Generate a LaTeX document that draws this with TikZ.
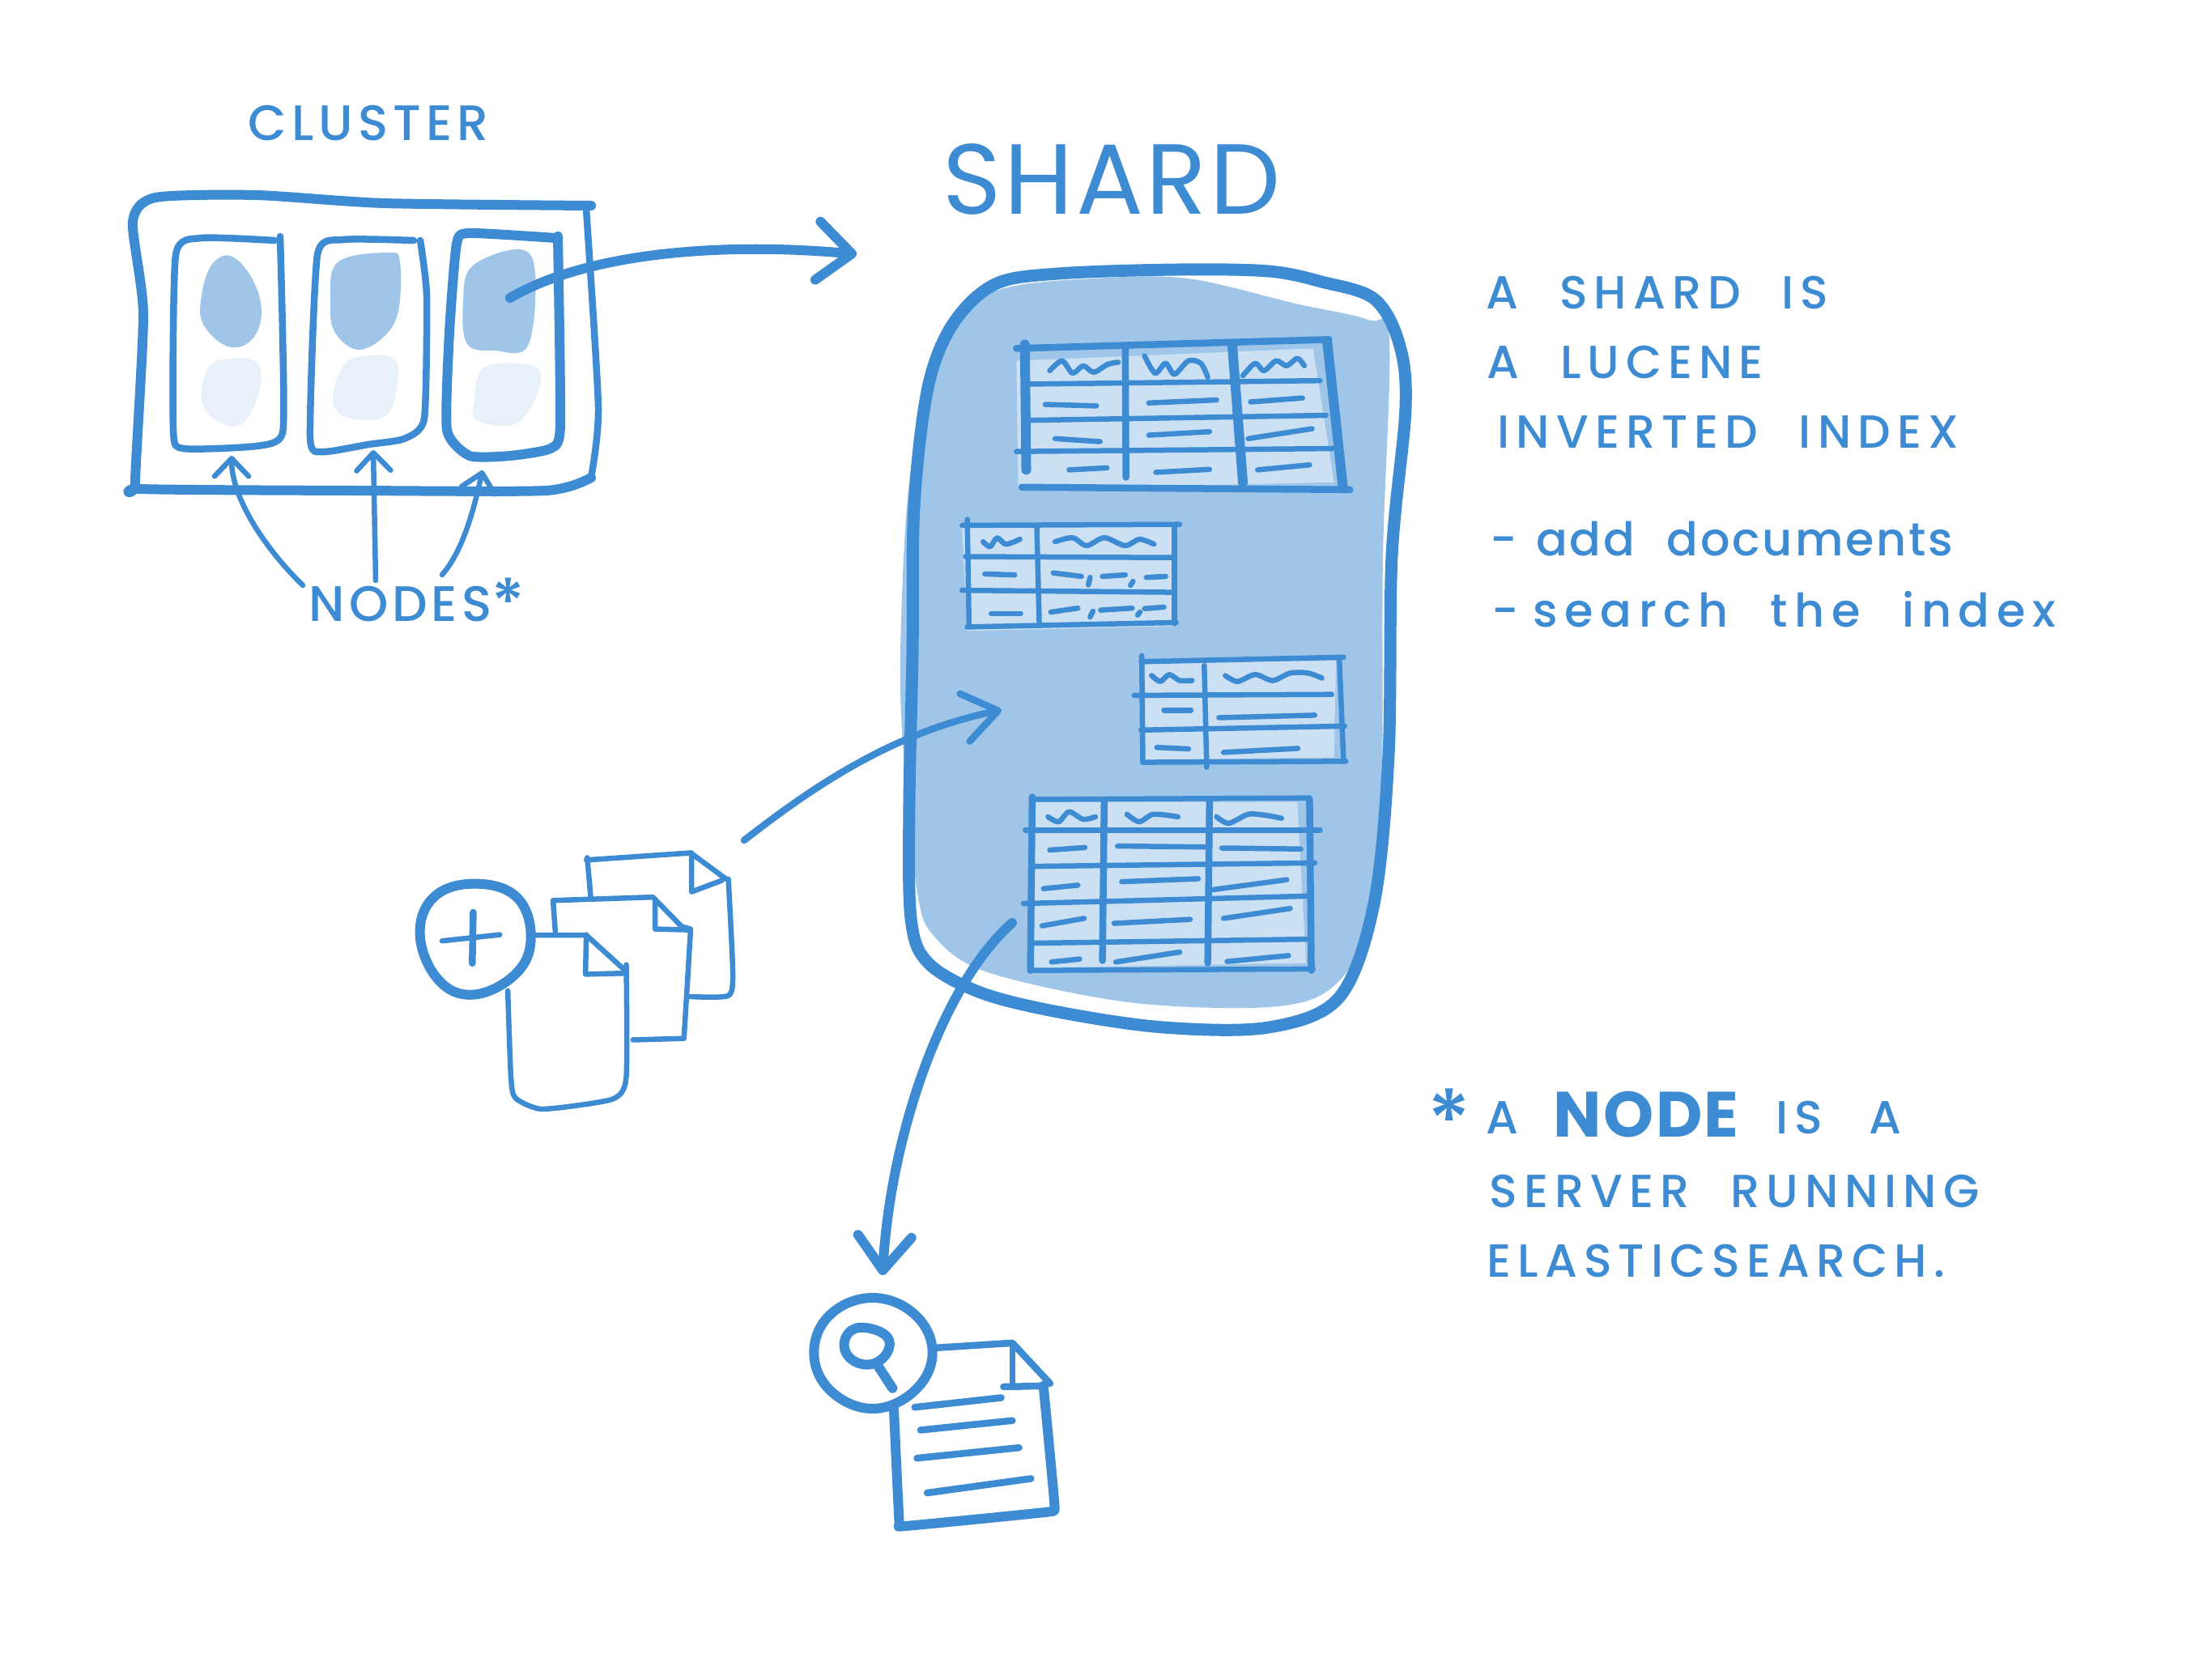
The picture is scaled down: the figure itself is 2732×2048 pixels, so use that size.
\documentclass[tikz,border=0pt]{standalone}
\usepackage{fontspec}
\usepackage{xcolor}
\usetikzlibrary{arrows.meta,positioning,calc}
\newfontfamily\handfont[LetterSpace=14,WordSpace=2.2]{Poppins Medium}
\newfontfamily\titlefont[LetterSpace=3]{Poppins}
\definecolor{ink}{HTML}{3D8BD2}
\definecolor{washblue}{HTML}{9FC5E8}
\definecolor{tableblue}{HTML}{CCE0F3}
\definecolor{paleblue}{HTML}{E8F1FA}

\begin{document}
\begin{tikzpicture}[
      x=0.01cm, y=-0.01cm,
      inkthin/.style={draw=ink, line width=0.065cm, line cap=round, line join=round},
      inkmid/.style={draw=ink, line width=0.085cm, line cap=round, line join=round},
      inkthick/.style={draw=ink, line width=0.12cm, line cap=round, line join=round},
      inkheavy/.style={draw=ink, line width=0.15cm, line cap=round, line join=round},
      smallflow/.style={inkthin, -{Straight Barb[round,length=0.22cm,width=0.42cm]}},
      bigflow/.style={inkthick, -{Straight Barb[round,length=0.42cm,width=0.72cm]}},
      titlelbl/.style={text=ink, inner sep=0pt, font=\titlefont\fontsize{35}{40}\selectfont},
      clusterlbl/.style={text=ink, inner sep=0pt, font=\handfont\addfontfeature{LetterSpace=10}\fontsize{17.5}{20}\selectfont},
      notelbl/.style={text=ink, inner sep=0pt, anchor=west, font=\handfont\fontsize{16.3}{20}\selectfont},
      tablefill/.style={fill=tableblue, draw=none},
    ]
    \useasboundingbox (0,0) rectangle (2732,2048);
    \fill[white] (0,0) rectangle (2732,2048);

    % --- cluster: blobs, node boxes, outer box ---------------------------------
    \fill[washblue] plot[smooth cycle, tension=0.7] coordinates {(292,320) (320,365) (317,411) (286,429) (252,402) (249,365) (264,324)};
    \fill[paleblue] plot[smooth cycle, tension=0.62] coordinates {(286,443) (317,448) (321,480) (299,524) (267,519) (249,494) (258,453)};
    \fill[washblue] plot[smooth cycle, tension=0.62] coordinates {(480,312) (494,324) (492,384) (474,416) (442,432) (414,411) (408,375) (417,324)};
    \fill[paleblue] plot[smooth cycle, tension=0.62] coordinates {(430,446) (486,443) (489,485) (474,515) (430,516) (411,494)};
    \fill[washblue] plot[smooth cycle, tension=0.62] coordinates {(642,308) (661,338) (652,427) (611,433) (577,425) (572,375) (583,329)};
    \fill[paleblue] plot[smooth cycle, tension=0.62] coordinates {(599,453) (661,453) (664,485) (636,524) (589,519) (586,494)};

    \draw[inkmid] plot[smooth, tension=0.35] coordinates {(339,297) (249,294) (217,315) (214,531) (227,554) (317,551) (349,535) (349,411) (346,292)};
    \draw[inkmid] plot[smooth, tension=0.35] coordinates {(511,297) (424,296) (392,315) (383,540) (399,558) (455,549) (499,542) (524,517) (527,365) (519,297)};
    \draw[inkthick] plot[smooth, tension=0.35] coordinates {(686,294) (580,288) (564,301) (555,411) (552,531) (580,563) (630,563) (680,554) (692,526) (689,292)};

    \draw[inkthick] plot[smooth, tension=0.4] coordinates {(730,254) (474,251) (317,241) (192,244) (164,274) (177,388) (167,595) (174,604) (442,606) (674,606) (730,590)};
    \draw[inkmid] plot[smooth, tension=0.4] coordinates {(724,258) (739,503) (730,590)};

    % --- labels on the left -----------------------------------------------------
    \node[clusterlbl] (cluster) at (455,152) {CLUSTER};
    \node[clusterlbl] (nodes) at (515,744) {\addfontfeature{LetterSpace=8}NODES\raisebox{-0.1em}{\fontsize{23}{23}\selectfont*}};

    \coordinate (nodeone) at (286,563);
    \coordinate (nodetwo) at (461,556);
    \coordinate (nodethree) at (596,581);
    \coordinate (fromone) at (374,723);
    \coordinate (fromtwo) at (464,717);
    \coordinate (fromthree) at (546,710);
    \draw[smallflow] (fromone) .. controls (320,670) and (286,610) .. (nodeone);
    \draw[smallflow] (fromtwo) -- (nodetwo);
    \draw[smallflow] (fromthree) .. controls (572,680) and (585,630) .. (nodethree);

    \coordinate (clusternode) at (630,368);
    \coordinate (shardtip) at (1058,314);
    \draw[bigflow] (clusternode) .. controls (720,315) and (880,298) .. (shardtip);

    % --- shard: wash and outline ------------------------------------------------
    \node[titlelbl] (shard) at (1373,221) {SHARD};

    \fill[washblue] plot[smooth cycle, tension=0.55] coordinates {(1467,344) (1600,375) (1690,395) (1716,420) (1708,687) (1706,993) (1688,1146) (1645,1220) (1567,1244) (1394,1238) (1220,1201) (1155,1158) (1133,1103) (1116,932) (1112,810) (1120,626) (1138,504) (1168,400) (1237,357) (1350,344)};
    \draw[inkheavy] plot[smooth cycle, tension=0.55] coordinates {(1567,335) (1454,333) (1307,338) (1229,351) (1177,400) (1146,479) (1129,626) (1127,810) (1123,993) (1125,1134) (1146,1189) (1211,1226) (1307,1250) (1437,1269) (1567,1269) (1654,1232) (1697,1116) (1715,932) (1719,687) (1736,504) (1728,424) (1697,369) (1632,348)};

    % --- four tables inside the shard --------------------------------------------
    \begin{scope}[xshift=10.9cm, yshift=-3.2cm, x=0.004337cm, y=-0.00612cm]
      % table one
      \fill[tablefill] (380,205) -- (1225,180) -- (1285,450) -- (385,465) -- cycle;
      \draw[inkmid] (380,180) -- (1270,162);
      \draw[inkthick] (404,172) -- (408,425);
      \draw[inkthick] (1265,165) -- (1310,460);
      \draw[inkmid] (395,460) -- (1330,465);
      \foreach \xa/\ya/\xb/\yb in {415/252/1245/245, 415/325/1262/315, 380/388/1280/382}
        \draw[inkthin] (\xa,\ya) -- (\xb,\yb);
      \draw[inkmid] (690,180) -- (692,440);
      \draw[inkthick] (995,175) -- (1025,450);
      \draw[inkthin] plot[smooth] coordinates {(475,225) (510,205) (540,230) (570,215) (600,228) (640,212) (670,208)};
      \draw[inkthin] plot[smooth] coordinates {(745,195) (775,230) (805,210) (830,232) (870,205) (905,210) (925,238)};
      \draw[inkthin] plot[smooth] coordinates {(1025,235) (1060,210) (1085,225) (1120,205) (1150,215) (1180,200) (1200,215)};
      \foreach \xa/\ya/\xb/\yb in {462/293/608/296, 757/290/950/284, 1047/288/1195/280, 490/362/618/368, 757/355/930/348, 1040/362/1222/342, 530/425/638/421, 777/430/930/424, 1067/425/1215/415}
        \draw[inkthin] (\xa,\ya) -- (\xb,\yb);

      % table two
      \fill[tablefill] (225,540) -- (830,530) -- (835,740) -- (240,750) -- cycle;
      \foreach \xa/\ya/\xb/\yb in {225/537/845/535, 240/525/245/742, 240/742/835/733, 830/540/830/735, 235/600/822/602, 225/668/825/672, 438/540/445/735}
        \draw[inkthin] (\xa,\ya) -- (\xb,\yb);
      \draw[inkthin] plot[smooth] coordinates {(285,570) (305,580) (325,562) (350,575) (390,565)};
      \draw[inkthin] plot[smooth] coordinates {(490,570) (540,562) (580,578) (630,562) (690,578) (730,565) (772,575)};
      \foreach \xa/\ya/\xb/\yb in {290/635/375/637, 308/715/392/715, 485/633/565/640, 625/640/690/637, 750/642/805/640, 478/712/555/704, 620/708/710/704, 745/705/800/702, 590/642/585/657, 712/650/705/658, 598/710/590/722, 732/712/725/718}
        \draw[inkthin] (\xa,\ya) -- (\xb,\yb);

      % table three
      \fill[tablefill] (745,815) -- (1290,810) -- (1285,1005) -- (745,1010) -- cycle;
      \foreach \xa/\ya/\xb/\yb in {735/812/1312/803, 737/800/740/1015, 740/1015/1318/1013, 1300/810/1312/1013, 715/880/1278/878, 735/950/1315/942, 915/820/922/1025}
        \draw[inkthin] (\xa,\ya) -- (\xb,\yb);
      \draw[inkthin] plot[smooth] coordinates {(765,840) (790,852) (815,838) (845,850) (880,850)};
      \draw[inkthin] plot[smooth] coordinates {(975,840) (1010,852) (1060,838) (1110,850) (1160,835) (1210,835) (1250,845)};
      \foreach \xa/\ya/\xb/\yb in {800/910/877/910, 780/985/870/988, 957/925/1230/920, 970/995/1182/987}
        \draw[inkthin] (\xa,\ya) -- (\xb,\yb);

      % table four
      \fill[tablefill] (430,1095) -- (1180,1095) -- (1205,1420) -- (430,1430) -- cycle;
      \foreach \xa/\ya/\xb/\yb in {425/1090/1215/1087, 405/1152/1245/1152, 430/1225/1230/1218, 400/1300/1205/1285, 425/1380/1205/1372, 420/1435/1225/1432}
        \draw[inkthin] (\xa,\ya) -- (\xb,\yb);
      \foreach \xa/\ya/\xb/\yb in {425/1085/420/1435, 1215/1090/1220/1435, 630/1095/625/1415, 930/1095/925/1420}
        \draw[inkmid] (\xa,\ya) -- (\xb,\yb);
      \draw[inkthin] plot[smooth] coordinates {(470,1125) (500,1135) (530,1115) (570,1130) (605,1125)};
      \draw[inkthin] plot[smooth] coordinates {(695,1120) (730,1135) (770,1120) (840,1125)};
      \draw[inkthin] plot[smooth] coordinates {(950,1125) (985,1138) (1040,1120) (1090,1122) (1135,1128)};
      \foreach \xa/\ya/\xb/\yb in {475/1192/575/1187, 668/1184/915/1186, 965/1188/1190/1190, 457/1270/555/1263, 680/1256/898/1250, 940/1272/1150/1252, 453/1345/573/1330, 658/1340/875/1332, 970/1330/1160/1310, 480/1418/560/1412, 663/1418/845/1398, 980/1417/1155/1405}
        \draw[inkthin] (\xa,\ya) -- (\xb,\yb);
    \end{scope}

    % --- documents going in, with the plus circle --------------------------------
    \coordinate (docsout) at (919,1038);
    \coordinate (docsin) at (1237,877);
    \draw[inkmid, -{Straight Barb[round,length=0.42cm,width=0.6cm]}] (docsout) .. controls (1000,975) and (1100,905) .. (docsin);

    \begin{scope}[xshift=4.8cm, yshift=-10cm, x=0.005485cm, y=-0.00587cm]
      \draw[inkthin] (447,100) -- (455,185);
      \draw[inkthin] (445,105) -- (680,90) -- (760,145);
      \draw[inkthin] plot[smooth, tension=0.4] coordinates {(765,145) (775,340) (765,390) (680,392)};
      \draw[inkthin] (682,90) -- (682,172) -- (750,148);
      \draw[inkthin] (375,255) -- (370,190) -- (595,183) -- (660,245) -- (680,250);
      \draw[inkthin] (600,190) -- (600,250) -- (680,252) -- (665,480) -- (550,483);
      \draw[inkthin] (330,263) -- (445,263) -- (530,335);
      \draw[inkthin] (445,262) -- (443,345) -- (530,343);
      \draw[inkthin] plot[smooth, tension=0.4] coordinates {(535,325) (535,560) (510,605) (430,620) (340,628) (285,605) (275,560) (268,380)};
      \draw[inkthick] plot[smooth cycle, tension=0.68] coordinates {(200,155) (290,185) (320,270) (285,345) (190,388) (110,355) (70,260) (105,180)};
      \draw[inkthin] (120,275) -- (250,262);
      \draw[inkmid] (190,215) -- (188,322);
    \end{scope}

    % --- search result coming out --------------------------------------------------
    \coordinate (tableout) at (1250,1140);
    \coordinate (searchtip) at (1090,1575);
    \draw[inkthick, -{Straight Barb[round,length=0.42cm,width=0.66cm]}] (tableout) .. controls (1165,1215) and (1100,1400) .. (searchtip);

    \begin{scope}[xshift=4.8cm, yshift=-10cm, x=0.005485cm, y=-0.00587cm]
      \draw[inkmid] (1235,1130) -- (1405,1120) -- (1490,1205);
      \draw[inkthin] (1405,1125) -- (1405,1212);
      \draw[inkmid] (1385,1212) -- (1480,1210);
      \draw[inkthick] plot[smooth, tension=0.2] coordinates {(1475,1210) (1500,1460) (1485,1475) (1160,1505) (1150,1495) (1138,1260)};
      \foreach \xa/\ya/\xb/\yb in {1185/1255/1380/1235, 1198/1303/1405/1283, 1190/1362/1420/1340, 1213/1435/1447/1405}
        \draw[inkmid] (\xa,\ya) -- (\xb,\yb);
      \draw[inkthick] plot[smooth cycle, tension=0.68] coordinates {(1090,1025) (1185,1060) (1225,1140) (1185,1220) (1090,1258) (995,1220) (958,1140) (995,1060)};
      \draw[inkthick] plot[smooth cycle, tension=0.74] coordinates {(1075,1088) (1125,1110) (1115,1150) (1070,1165) (1030,1140) (1035,1100)};
      \draw[inkthick] (1100,1165) -- (1135,1215);
    \end{scope}

    % --- notes on the right ----------------------------------------------------------
    \node[notelbl] (shardone) at (1835,362) {A SHARD IS};
    \node[notelbl] (shardtwo) at (1836,448) {A LUCENE};
    \node[notelbl] (shardthree) at (1849,534) {INVERTED INDEX};
    \node[notelbl] (usesone) at (1840,666) {\addfontfeature{LetterSpace=5}-\hspace{0.4em}add documents};
    \node[notelbl] (usestwo) at (1842,753) {\addfontfeature{LetterSpace=15}-\hspace{0.3em}search the index};
    \node[notelbl, anchor=center, font=\handfont\fontsize{30}{30}\selectfont] (star) at (1790,1384) {*};
    \node[notelbl] (notea) at (1835,1381) {A};
    \node[notelbl, font=\titlefont\bfseries\fontsize{22.5}{26}\selectfont] (noteword) at (1918,1377) {NODE};
    \node[notelbl] (noteis) at (2193,1381) {IS};
    \node[notelbl] (notelast) at (2308,1381) {A};
    \node[notelbl] (serverline) at (1839,1472) {SERVER RUNNING};
    \node[notelbl] (elasticline) at (1836,1558) {ELASTICSEARCH.};
\end{tikzpicture}
\end{document}
